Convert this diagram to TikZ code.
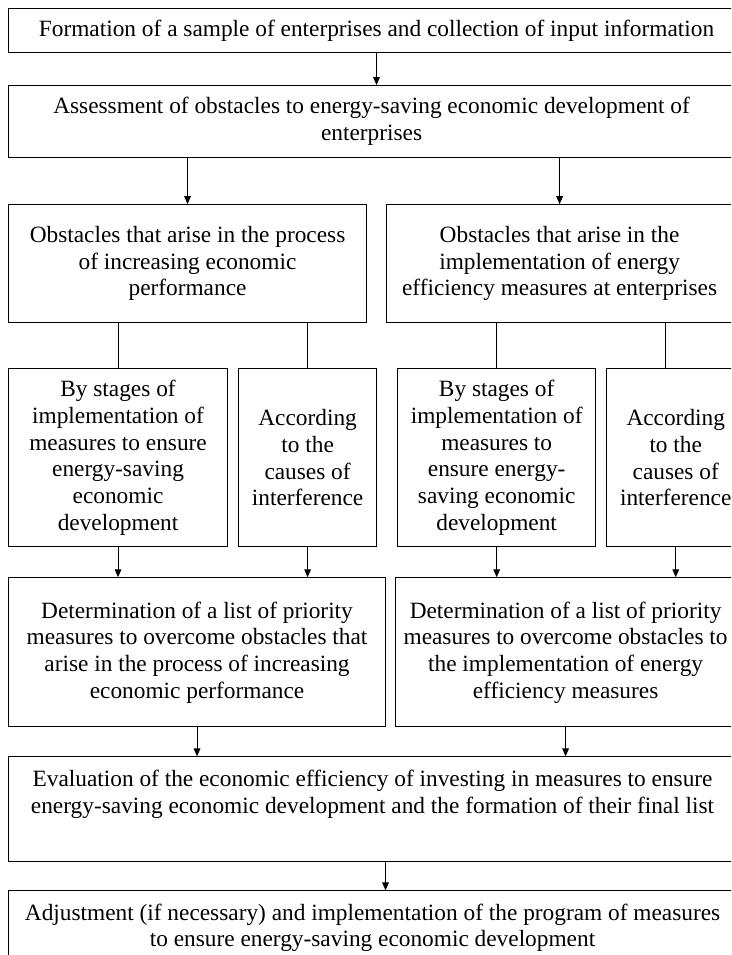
\documentclass[tikz,border=0pt]{standalone}
\usepackage{fontspec}
\setmainfont{Liberation Serif}
\usetikzlibrary{arrows.meta,positioning}

\begin{document}
\begin{tikzpicture}[
    x=0.75pt, y=-0.75pt,
    box/.style={rectangle, draw, line width=0.8pt, align=center, inner sep=1pt, font=\fontsize{17.5}{20}\selectfont},
    arrow/.style={-{Triangle[length=6pt,width=5pt]}, line width=0.8pt},
    link/.style={line width=0.8pt}
]
    \useasboundingbox (0,0) rectangle (731,955);
    \clip (0,0) rectangle (731,955);

    \node [box, anchor=north west, minimum width=552pt, minimum height=33pt] (n1) at (8,8) {Formation of a sample of enterprises and collection of input information};
    \node [box, below=24pt of n1.south west, anchor=north west, minimum width=544.5pt, minimum height=54pt] (n2) {Assessment of obstacles to energy-saving economic development of\\enterprises};

    \node [box, below=34.5pt of n2.south west, anchor=north west, minimum width=268.5pt, minimum height=88.5pt] (n3L) {Obstacles that arise in the process\\of increasing economic\\performance};
    \node [box, right=14.25pt of n3L, minimum width=259.5pt, minimum height=88.5pt] (n3R) {Obstacles that arise in the\\implementation of energy\\efficiency measures at enterprises};

    \node [box, below=33.75pt of n3L.south west, anchor=north west, minimum width=164.25pt, minimum height=133.5pt] (n4a) {By stages of\\implementation of\\measures to ensure\\energy-saving\\economic\\development};
    \node [box, right=7.5pt of n4a, minimum width=103.5pt, minimum height=133.5pt] (n4b) {According\\to the\\causes of\\interference};
    \node [box, right=15pt of n4b, minimum width=148.5pt, minimum height=133.5pt] (n4c) {By stages of\\implementation of\\measures to\\ensure energy-\\saving economic\\development};
    \node [box, right=7.5pt of n4c, minimum width=103.5pt, minimum height=133.5pt] (n4d) {According\\to the\\causes of\\interference};

    \node [box, below=22.5pt of n4a.south west, anchor=north west, minimum width=282.75pt, minimum height=111.75pt] (n5L) {Determination of a list of priority\\measures to overcome obstacles that\\arise in the process of increasing\\economic performance};
    \node [box, right=6.75pt of n5L, minimum width=255pt, minimum height=111.75pt] (n5R) {Determination of a list of priority\\measures to overcome obstacles to\\the implementation of energy\\efficiency measures};

    \node [box, below=21.75pt of n5L.south west, anchor=north west, minimum width=546pt, minimum height=78.75pt] (n6) {Evaluation of the economic efficiency of investing in measures to ensure\\energy-saving economic development and the formation of their final list\\[6pt]\mbox{}};
    \node [box, below=21pt of n6.south west, anchor=north west, minimum width=546pt, minimum height=55.5pt] (n7) {Adjustment (if necessary) and implementation of the program of measures\\to ensure energy-saving economic development};

    \draw [arrow] (n1.south) -- (n1.south |- n2.north);
    \draw [arrow] (n3L.north |- n2.south) -- (n3L.north);
    \draw [arrow] (n3R.north |- n2.south) -- (n3R.north);

    \draw [link] (n4a.north |- n3L.south) -- (n4a.north);
    \draw [link] (n4b.north |- n3L.south) -- (n4b.north);
    \draw [link] (n4c.north |- n3R.south) -- (n4c.north);
    \draw [link] ([xshift=-7.5pt]n4d.north |- n3R.south) -- ([xshift=-7.5pt]n4d.north);

    \draw [arrow] (n4a.south) -- (n4a.south |- n5L.north);
    \draw [arrow] (n4b.south) -- (n4b.south |- n5L.north);
    \draw [arrow] (n4c.south) -- (n4c.south |- n5R.north);
    \draw [arrow] (n4d.south) -- (n4d.south |- n5R.north);

    \draw [arrow] (n5L.south) -- (n5L.south |- n6.north);
    \draw [arrow] (n5R.south) -- (n5R.south |- n6.north);
    \draw [arrow] ([xshift=9.75pt]n6.south) -- ([xshift=9.75pt]n6.south |- n7.north);
\end{tikzpicture}
\end{document}
